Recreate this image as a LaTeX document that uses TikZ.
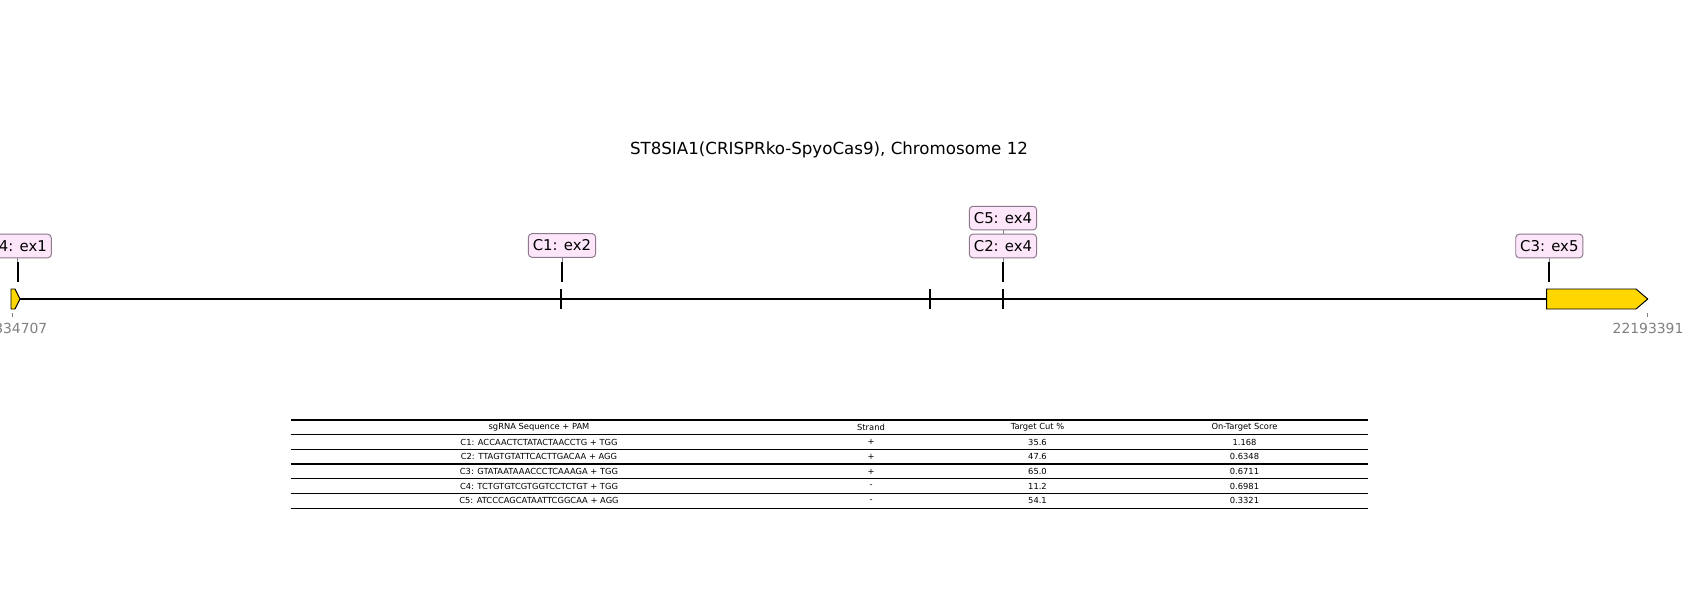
\documentclass[tikz,border=0pt]{standalone}
\usepackage{fontspec}
\setmainfont{DejaVu Sans}
\usetikzlibrary{positioning}
\definecolor{exonfill}{RGB}{255,215,0}
\definecolor{labelfill}{RGB}{253,230,250}
\definecolor{labeledge}{RGB}{140,122,140}
\definecolor{coordgray}{RGB}{128,128,128}
\tikzset{
  cutlabel/.style={draw=labeledge, fill=labelfill, rounded corners=2.5pt, line width=0.7pt,
    inner xsep=3.2pt, inner ysep=0pt, minimum height=17pt, font=\fontsize{10.7}{13}\selectfont},
  cutstem/.style={line width=1.4pt},
  cutlink/.style={draw=labeledge, line width=0.5pt},
  exonbox/.style={draw=black, fill=exonfill, line width=0.7pt},
  exontick/.style={line width=1.4pt},
  coordlabel/.style={text=coordgray, font=\fontsize{10}{12}\selectfont},
  cell/.style={font=\fontsize{6}{7}\selectfont, inner sep=0pt},
  rowline/.style={line width=0.9pt},
}
\begin{document}
\begin{tikzpicture}[x=0.72pt, y=-0.72pt]
    \clip (0,0) rectangle (1700,600);
    \fill[white] (0,0) rectangle (1700,600);
    % title
    \node[font=\fontsize{12}{14}\selectfont] (title) at (829,150) {ST8SIA1(CRISPRko-SpyoCas9), Chromosome 12};
    % gene backbone and exons
    \coordinate (gstart) at (12,299);
    \coordinate (gend) at (1648,299);
    \draw[line width=1.1pt] (gstart) -- (gend);
    \draw[exonbox] (11,289) -- (15,289) -- (20,299) -- (15,309) -- (11,309) -- cycle;
    \draw[exonbox] (1546.7,289) -- (1636,289) -- (1647.7,299) -- (1636,309) -- (1546.7,309) -- cycle;
    \foreach \ex in {560.7, 930, 1003}
        \draw[exontick] (\ex,289) -- (\ex,309);
    % coordinates at both ends
    \draw[coordgray, line width=0.5pt] (12.3,313) -- (12.3,317);
    \draw[coordgray, line width=0.5pt] (1647.7,313) -- (1647.7,317);
    \node[coordlabel] (cleft) at (12,328) {22334707};
    \node[coordlabel] (cright) at (1648,328) {22193391};
    % cut sites
    \foreach \name/\cx in {c4/17.7, c1/562, c2/1003, c3/1549.3} {
        \coordinate (\name top) at (\cx,262);
        \draw[cutstem] (\name top) -- (\cx,282);
    }
    \node[cutlabel] (c4) at (17.7,246) {C4: ex1};
    \node[cutlabel] (c1) at (562,245.5) {C1: ex2};
    \node[cutlabel] (c2) at (1003,246) {C2: ex4};
    \node[cutlabel, above=2.4pt of c2] (c5) {C5: ex4};
    \node[cutlabel] (c3) at (1549.3,246) {C3: ex5};
    \foreach \name in {c4, c1, c2, c3}
        \draw[cutlink] (\name.south) -- (\name top);
    \draw[cutlink] (c5.south) -- (c2.north);
    % guide table
    \foreach \ly in {420, 434.7, 449.4, 464.1, 478.8, 493.5, 508.2}
        \draw[rowline] (290.6,\ly) -- (1368,\ly);
    \node[cell] (hseq) at (539,427.4) {sgRNA Sequence + PAM};
    \node[cell] (hstrand) at (871,427.4) {Strand};
    \node[cell] (hcut) at (1037.5,427.4) {Target Cut \%};
    \node[cell] (hscore) at (1244.5,427.4) {On-Target Score};
    \foreach \seq/\strand/\cut/\score [count=\r] in {
        C1: ACCAACTCTATACTAACCTG + TGG/+/35.6/1.168,
        C2: TTAGTGTATTCACTTGACAA + AGG/+/47.6/0.6348,
        C3: GTATAATAAACCCTCAAAGA + TGG/+/65.0/0.6711,
        C4: TCTGTGTCGTGGTCCTCTGT + TGG/-/11.2/0.6981,
        C5: ATCCCAGCATAATTCGGCAA + AGG/-/54.1/0.3321} {
        \node[cell] (seq\r) at (539,427.4+14.7*\r) {\seq};
        \node[cell] (strand\r) at (871,427.4+14.7*\r) {\strand};
        \node[cell] (cut\r) at (1037.5,427.4+14.7*\r) {\cut};
        \node[cell] (score\r) at (1244.5,427.4+14.7*\r) {\score};
    }
\end{tikzpicture}
\end{document}
